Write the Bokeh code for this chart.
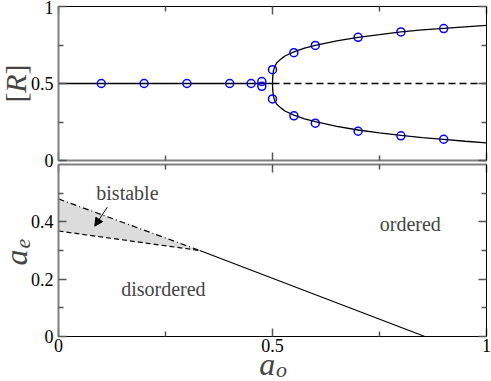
from bokeh.plotting import figure
from bokeh.models import Range1d, LinearAxis, FixedTicker, Label, Arrow, NormalHead
from bokeh.embed import file_html
from bokeh.resources import INLINE

FONT = "Liberation Serif"

# ---------------- data: top panel ([R] vs a_o) ----------------
sym_x = [0.1, 0.2, 0.3, 0.4, 0.45]
sym_r = [0.5, 0.5, 0.5, 0.5, 0.5]
split_x = [0.475, 0.5, 0.55, 0.6, 0.7, 0.8, 0.9]
split_hi = [0.513, 0.59, 0.70, 0.747, 0.80, 0.835, 0.857]
split_lo = [0.482, 0.40, 0.29, 0.242, 0.19, 0.16, 0.138]

stable_x = [0.0, 0.5]
stable_r = [0.5, 0.5]
unstable_x = [0.5, 1.0]
unstable_r = [0.5, 0.5]

branch_x = [0.5, 0.5005, 0.502, 0.505, 0.51, 0.52, 0.53, 0.55, 0.575, 0.6,
            0.65, 0.7, 0.75, 0.8, 0.85, 0.9, 0.95, 1.0]
branch_hi = [0.5, 0.54, 0.58, 0.61, 0.635, 0.66, 0.68, 0.705, 0.73, 0.748,
             0.777, 0.80, 0.817, 0.835, 0.848, 0.858, 0.868, 0.877]
branch_lo = [0.5, 0.46, 0.42, 0.39, 0.365, 0.34, 0.32, 0.295, 0.27, 0.252,
             0.222, 0.198, 0.18, 0.163, 0.148, 0.137, 0.125, 0.115]

# ---------------- data: bottom panel (a_e vs a_o) ----------------
bound_x = [0.0, 0.33]
spinodal_hi = [0.48, 0.30]   # dash-dot
spinodal_lo = [0.368, 0.30]  # dashed
order_x = [0.33, 0.856]
order_ae = [0.30, 0.0]

x_ticks = [0, 0.5, 1]
x_tick_labels = ["0", "0.5", "1"]
x_minor = [0.25, 0.75]
r_ticks = [0, 0.5, 1]
r_tick_labels = ["0", "0.5", "1"]
r_minor = [0.25, 0.75]
ae_ticks = [0, 0.2, 0.4]
ae_tick_labels = ["0", "0.2", "0.4"]
ae_minor = [0.1, 0.3, 0.5]

GRAY = "#808080"

# one canvas; panels are placed through two y ranges
W, H = 491, 381
FL, FR = 58, 486           # frame left/right px
BOT_Y0, BOT_Y1 = 336, 164  # bottom panel: a_e = 0 / 0.6
TOP_Y0, TOP_Y1 = 160, 6    # top panel: [R] = 0 / 1

sx = 428.0
x_rng = Range1d(-FL / sx, 1 + (W - FR) / sx)
sb = (BOT_Y0 - BOT_Y1) / 0.6
y_rng = Range1d(-(H - BOT_Y0) / sb, BOT_Y0 / sb)
st = (TOP_Y0 - TOP_Y1) / 1.0
r_rng = Range1d(-(H - TOP_Y0) / st, TOP_Y0 / st)

p = figure(width=W, height=H, x_range=x_rng, y_range=y_rng,
           output_backend="svg", toolbar_location=None,
           x_axis_location=None, y_axis_location=None,
           min_border_left=0, min_border_right=0, min_border_top=0, min_border_bottom=0)
p.extra_y_ranges = {"r": r_rng}
p.outline_line_color = None
p.grid.visible = False


def make_axis(ticks, minor, labels, loc, bounds, line_color="black", line_width=1, yname="default"):
    ax = LinearAxis(ticker=FixedTicker(ticks=ticks, minor_ticks=minor),
                    fixed_location=loc, bounds=bounds, y_range_name=yname)
    ax.major_tick_in = 8
    ax.major_tick_out = 0
    ax.minor_tick_in = 5
    ax.minor_tick_out = 0
    ax.axis_line_color = line_color
    ax.axis_line_width = line_width
    ax.major_tick_line_color = "#555555"
    ax.minor_tick_line_color = "#555555"
    ax.major_tick_line_width = 1.5
    ax.minor_tick_line_width = 1.5
    ax.major_label_text_font = FONT
    ax.major_label_text_font_size = "18px"
    ax.major_label_text_color = "black"
    if labels is None:
        ax.major_label_overrides = {t: "" for t in ticks}
        ax.major_label_standoff = 0
    else:
        ax.major_label_overrides = {t: l for t, l in zip(ticks, labels)}
    return ax


# top panel frame
a = make_axis(r_ticks, r_minor, r_tick_labels, 0, (0, 1), GRAY, 2, "r")
a.major_label_standoff = 5
p.add_layout(a, "left")
p.add_layout(make_axis(r_ticks, r_minor, None, 1, (0, 1), "black", 1, "r"), "right")
p.add_layout(make_axis(x_ticks, x_minor, None, 1, (0, 1), "black", 1, "r"), "above")
p.add_layout(make_axis(x_ticks, x_minor, None, 0, (0, 1), GRAY, 2, "r"), "below")

# bottom panel frame
a = make_axis(ae_ticks, ae_minor, ae_tick_labels, 0, (0, 0.6), GRAY, 2)
a.major_label_standoff = 5
p.add_layout(a, "left")
p.add_layout(make_axis(ae_ticks, ae_minor, None, 1, (0, 0.6), "black", 1), "right")
p.add_layout(make_axis(x_ticks, x_minor, None, 0.6, (0, 1), GRAY, 2), "above")
a = make_axis(x_ticks, x_minor, x_tick_labels, 0, (0, 1), "black", 1)
a.major_label_standoff = 2
p.add_layout(a, "below")

# ---- top panel glyphs ----
p.line(stable_x, stable_r, line_color="black", line_width=1.3, y_range_name="r")
p.line(unstable_x, unstable_r, line_color="black", line_width=1.3, line_dash="7 4",
       y_range_name="r")
p.line(branch_x[::-1] + branch_x, branch_hi[::-1] + branch_lo,
       line_color="black", line_width=1.3, y_range_name="r")
for ys, xs in [(sym_r, sym_x), (split_hi, split_x), (split_lo, split_x)]:
    p.scatter(xs, ys, size=8, marker="circle", fill_color=None,
              line_color="#0000ff", line_width=1.5, y_range_name="r")

for txt, yy, stl in [("[", 0.409, "normal"), ("R", 0.5, "italic"), ("]", 0.591, "normal")]:
    p.add_layout(Label(x=-0.1004, y=yy, text=txt, angle=1.5708, text_font=FONT,
                       text_font_size="30px", text_font_style=stl, y_range_name="r",
                       text_align="center", text_baseline="alphabetic"))

# ---- bottom panel glyphs ----
p.varea(x=bound_x, y1=spinodal_lo, y2=spinodal_hi, fill_color="#dcdcdc")
p.line(bound_x, spinodal_hi, line_color="black", line_width=1.2, line_dash="6 3 1 3")
p.line(bound_x, spinodal_lo, line_color="black", line_width=1.2, line_dash="5 3")
p.line(order_x, order_ae, line_color="black", line_width=1.2)

for txt, xx, yy in [("bistable", 0.161, 0.499), ("disordered", 0.245, 0.164),
                    ("ordered", 0.822, 0.394)]:
    p.add_layout(Label(x=xx, y=yy, text=txt, text_font=FONT, text_font_size="20px",
                       text_align="center", text_baseline="middle"))
p.add_layout(Arrow(x_start=0.114, y_start=0.451, x_end=0.0848, y_end=0.385,
                   line_color="black", line_width=1,
                   end=NormalHead(size=8, fill_color="black", line_color="black")))

# axis titles: a_e (rotated) and a_o
p.add_layout(Label(x=-0.1004, y=0.2755, text="a", angle=1.5708, text_font=FONT,
                   text_font_size="32px", text_font_style="italic",
                   text_align="center", text_baseline="alphabetic"))
p.add_layout(Label(x=-0.084, y=0.324, text="e", angle=1.5708, text_font=FONT,
                   text_font_size="22px", text_font_style="italic",
                   text_align="center", text_baseline="alphabetic"))
p.add_layout(Label(x=0.488, y=-0.0976, text="a", text_font=FONT,
                   text_font_size="32px", text_font_style="italic",
                   text_align="center", text_baseline="alphabetic"))
p.add_layout(Label(x=0.521, y=-0.115, text="o", text_font=FONT,
                   text_font_size="22px", text_font_style="italic",
                   text_align="center", text_baseline="alphabetic"))

open("out.html", "w").write(file_html(p, INLINE))
